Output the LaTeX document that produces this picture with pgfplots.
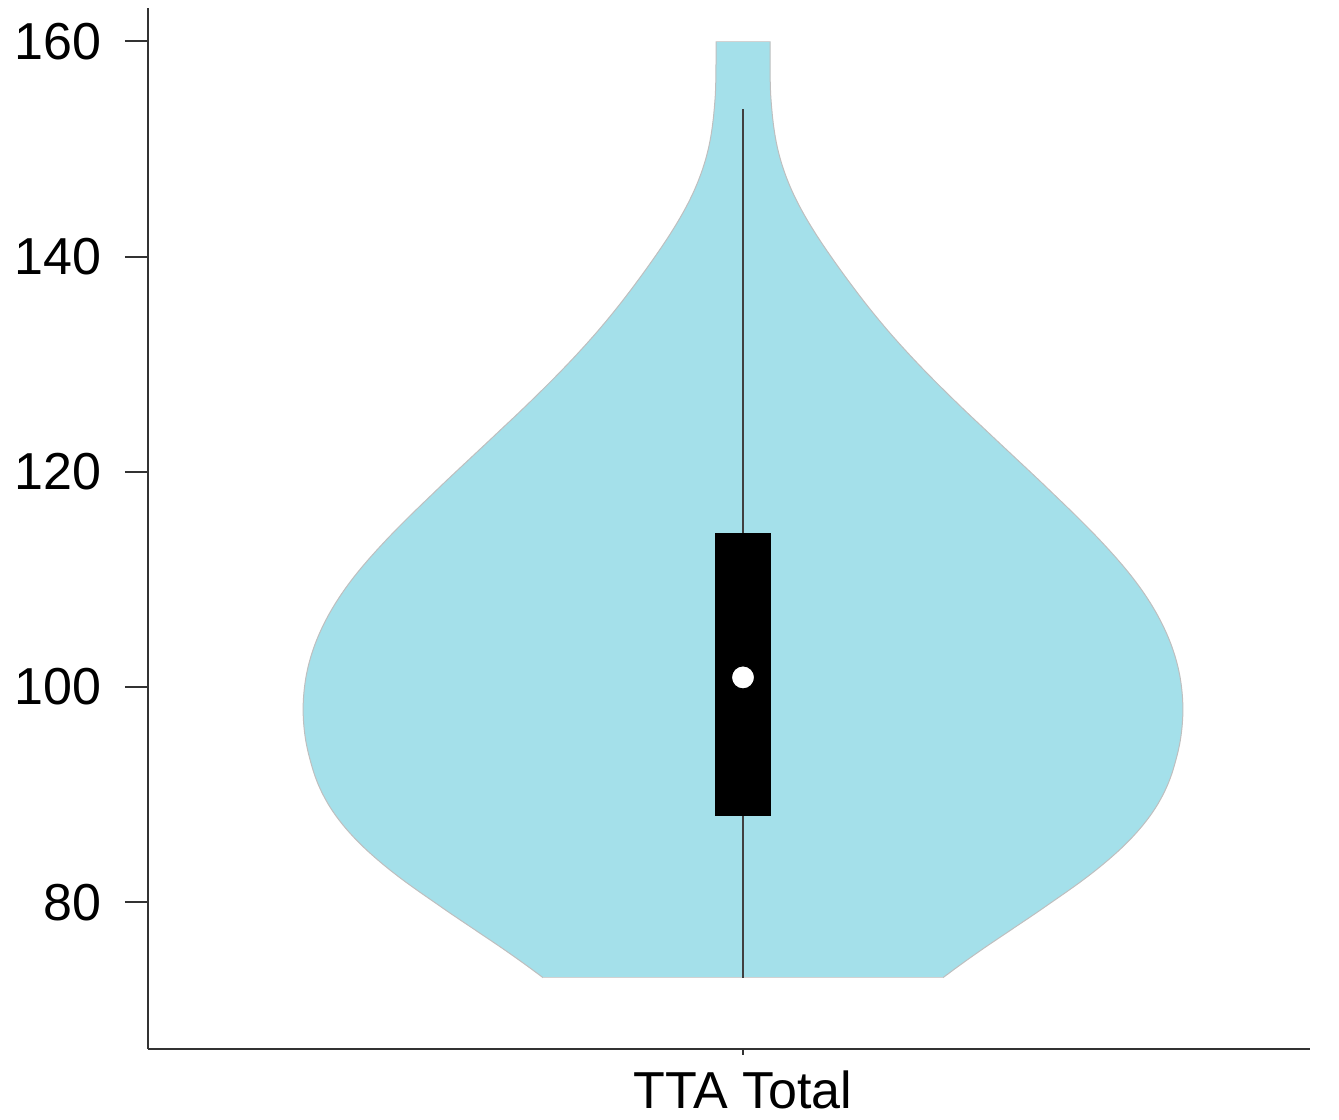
\documentclass[border=0pt]{standalone}
\usepackage{fontspec}
\setmainfont{Liberation Sans}
\usepackage{pgfplots}
\usepackage{pgfplotstable}
\pgfplotsset{compat=1.18}
\definecolor{violinfill}{RGB}{164,224,234}
\definecolor{axcol}{RGB}{51,51,51}
\pgfplotstableread{
y hw
73 200
74 214.5
75 229.5
76 245
77 261
78 277
79 293
80 308.5
81 324
82 339
83 353
84 366
85 378
86 388.8
87 398.4
88 406.8
89 414
90 420
91 425
92 429
93 432.2
94 435
95 437.2
96 438.7
97 439.6
98 439.9
99 439.5
100 438.5
101 436.9
102 434.6
103 431.6
104 427.9
105 423.5
106 418.4
107 412.6
108 406.1
109 398.9
110 391
111 382.4
112 373.2
113 363.5
114 353.4
115 342.9
116 332.1
117 321.0
118 309.8
119 298.6
120 287.2
121 275.7
122 264.2
123 252.7
124 241.3
125 229.8
126 218.5
127 207.4
128 196.5
129 185.8
130 175.4
131 165.3
132 155.5
133 146.0
134 136.9
135 128.1
136 119.6
137 111.4
138 103.4
139 95.6
140 88.0
141 80.6
142 73.5
143 66.8
144 60.5
145 54.7
146 49.5
147 44.9
148 40.9
149 37.5
150 34.7
151 32.5
152 30.8
153 29.5
154 28.5
155 27.7
156 27.3
157 27.1
158 27.0
159 27.0
160 27.0
}\violin
\begin{document}
\begin{tikzpicture}
\begin{axis}[
  scale only axis,
  width=348.6pt, height=312.3pt,
  xmin=-595, xmax=567,
  ymin=66.37, ymax=163.1,
  axis x line*=bottom, axis y line*=left,
  axis line style={axcol, line width=0.6pt},
  ytick={80,100,120,140,160},
  xtick={0}, xticklabels={TTA Total},
  tick align=outside,
  major tick length=6.9pt,
  tick style={axcol, line width=0.6pt},
  xtick style={draw=none},
  tick label style={font=\fontsize{15.6}{18}\selectfont},
  yticklabel style={xshift=-3.6pt},
  xticklabel style={yshift=4pt},
  /pgf/number format/assume math mode=true,
  clip=false,
]
\coordinate (sw) at (rel axis cs:0,0);
\coordinate (ne) at (rel axis cs:1,1);
% violin body: right half and left half
\addplot[fill=violinfill, draw=none, smooth, tension=0.5] table[x=hw, y=y] {\violin}
  -- (axis cs:-3,160) -- (axis cs:-3,73) -- cycle;
\addplot[fill=violinfill, draw=none, smooth, tension=0.5] table[x expr=-\thisrow{hw}, y=y] {\violin}
  -- (axis cs:3,160) -- (axis cs:3,73) -- cycle;
% outline
\addplot[draw=gray!50, line width=0.3pt, smooth, tension=0.5] table[x=hw, y=y] {\violin};
\addplot[draw=gray!50, line width=0.3pt, smooth, tension=0.5] table[x expr=-\thisrow{hw}, y=y] {\violin};
\addplot[draw=gray!35, line width=0.3pt] coordinates {(-200,73.0) (200,73.0)};
\addplot[draw=gray!35, line width=0.3pt] coordinates {(-27,160.0) (27,160.0)};
% whisker
\addplot[black!75, line width=0.6pt] coordinates {(0,73.0) (0,153.7)};
% box
\addplot[fill=black, draw=none] coordinates {(-28,88.0) (28,88.0) (28,114.3) (-28,114.3)} -- cycle;
% median
\addplot[only marks, mark=*, mark size=3.5pt, mark options={fill=white, draw=none}] coordinates {(0,100.9)};
\draw[axcol, line width=0.6pt] (axis cs:0,66.37) -- ([yshift=-1.8pt]axis cs:0,66.37);
\end{axis}
\path ([shift={(-44.4pt,-20.7pt)}]sw) rectangle ([shift={(8.7pt,2.4pt)}]ne);
\end{tikzpicture}
\end{document}
